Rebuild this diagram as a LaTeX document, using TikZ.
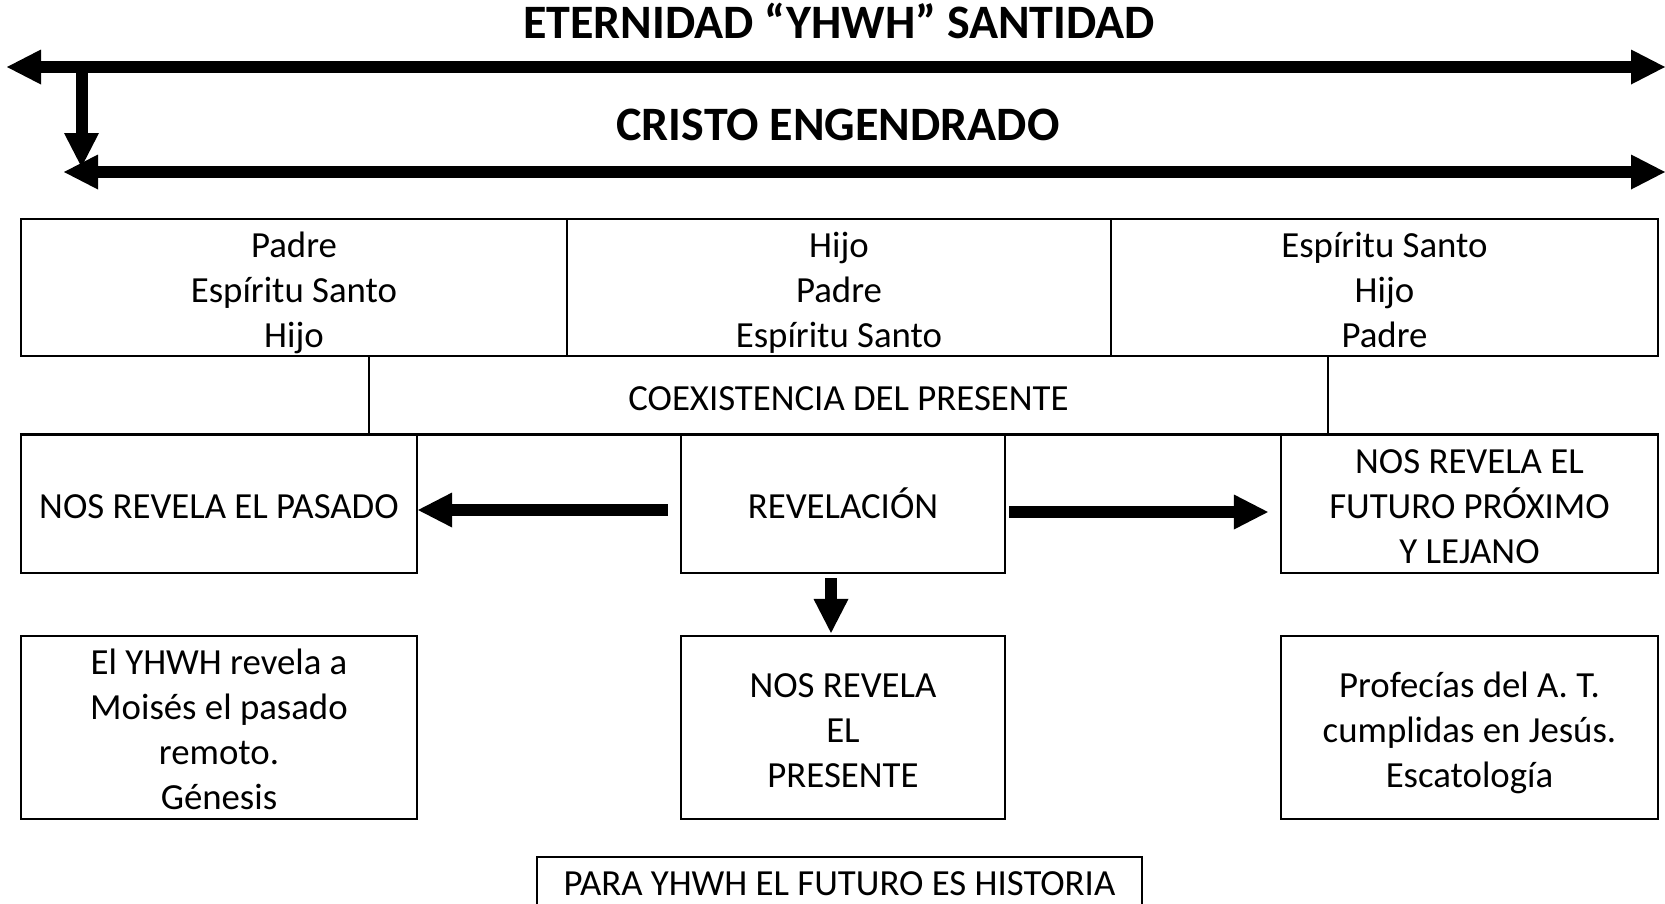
\documentclass[tikz,border=0pt]{standalone}
\usepackage{fontspec}
\setmainfont{Carlito}
\usetikzlibrary{arrows.meta}
\newcommand{\mystrut}{\rule[-8pt]{0pt}{45pt}}
\tikzset{
  titletext/.style={anchor=base, inner sep=0pt, font=\fontsize{48pt}{58pt}\selectfont\bfseries},
  cellbox/.style={draw, line width=2.2pt, inner sep=0pt, align=center,
    font=\fontsize{36.8pt}{45pt}\selectfont},
  fatarrow/.style={line width=12pt, -{Triangle[length=34pt,width=35pt,line width=0pt]}},
  fatboth/.style={line width=12pt, {Triangle[length=34pt,width=35pt,line width=0pt]}-{Triangle[length=34pt,width=35pt,line width=0pt]}},
  thinline/.style={line width=2.2pt}
}
\begin{document}
\begin{tikzpicture}[x=1pt,y=-1pt]
\useasboundingbox (0,0) rectangle (1665,903);
\clip (0,0) rectangle (1665,903);
\fill[white] (0,0) rectangle (1665,903);

% titles
\node[titletext] (t1) at (839,38.5) {ETERNIDAD “YHWH” SANTIDAD};
\node[titletext] (t2) at (838,140.5) {CRISTO ENGENDRADO};

% top arrows
\coordinate (a1l) at (7,67);
\coordinate (a1r) at (1665,67);
\coordinate (a2l) at (64,172);
\coordinate (a2r) at (1665,172);
\coordinate (vtop) at (81.5,61);
\coordinate (vbot) at (81.5,167);
\draw[fatboth] (a1l) -- (a1r);
\draw[fatboth] (a2l) -- (a2r);
\draw[fatarrow] (vtop) -- (vbot);

% table row
\node[cellbox, minimum width=546pt, minimum height=137pt] (c1) at (294,287.5)
  {\mystrut Padre\\ Espíritu Santo\\ Hijo\mystrut};
\node[cellbox, minimum width=544pt, minimum height=137pt] (c2) at (839,287.5)
  {\mystrut Hijo\\ Padre\\ Espíritu Santo\mystrut};
\node[cellbox, minimum width=547pt, minimum height=137pt] (c3) at (1384.5,287.5)
  {\mystrut Espíritu Santo\\ Hijo\\ Padre\mystrut};

\node[cellbox, minimum width=959pt, minimum height=79pt] (coex) at (848.5,395.5)
  {\mystrut COEXISTENCIA DEL PRESENTE};

% middle row
\node[cellbox, minimum width=396pt, minimum height=138pt] (pas) at (219,504)
  {\mystrut NOS REVELA EL PASADO};
\node[cellbox, minimum width=324pt, minimum height=138pt] (rev) at (843,504)
  {\mystrut REVELACIÓN};
\node[cellbox, minimum width=377pt, minimum height=138pt] (fut) at (1469.5,504)
  {\mystrut NOS REVELA EL\\ FUTURO PRÓXIMO\\ Y LEJANO\mystrut};
\draw[thinline] (pas.north west) -- (fut.north east);

% bottom row
\node[cellbox, minimum width=396pt, minimum height=183pt] (gen) at (219,727.5)
  {\mystrut El YHWH revela a\\ Moisés el pasado\\ remoto.\\ Génesis\mystrut};
\node[cellbox, minimum width=324pt, minimum height=183pt] (pres) at (843,727.5)
  {\mystrut NOS REVELA\\ EL\\ PRESENTE\mystrut};
\node[cellbox, minimum width=377pt, minimum height=183pt] (prof) at (1469.5,727.5)
  {\mystrut Profecías del A. T.\\ cumplidas en Jesús.\\ Escatología\mystrut};

\node[cellbox, minimum width=605pt, minimum height=48pt] (para) at (839.5,881)
  {\mystrut PARA YHWH EL FUTURO ES HISTORIA};

% arrows from REVELACIÓN
\draw[fatarrow] ([xshift=-12pt,yshift=-6pt]rev.west) -- ([yshift=-6pt]pas.east);
\draw[fatarrow] ([xshift=3pt,yshift=-8pt]rev.east) -- ([xshift=-12pt,yshift=-8pt]fut.west);
\draw[fatarrow] ([xshift=-12pt,yshift=-4pt]rev.south) -- ([xshift=-12pt,yshift=2pt]pres.north);
\end{tikzpicture}
\end{document}
